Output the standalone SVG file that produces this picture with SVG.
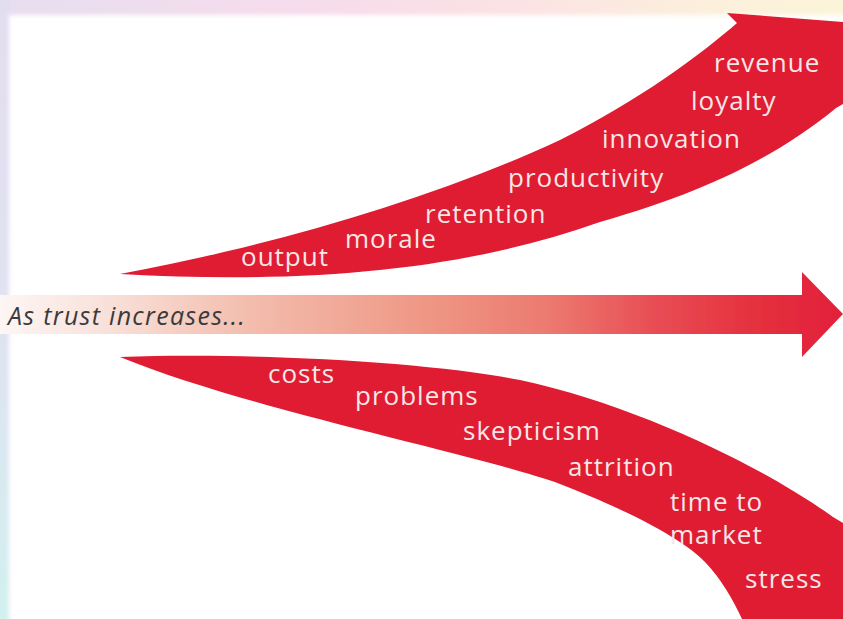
<svg xmlns="http://www.w3.org/2000/svg" width="843" height="619" viewBox="0 0 843 619">
  <defs>
    <linearGradient id="topBand" x1="0" y1="0" x2="1" y2="0">
      <stop offset="0" stop-color="#e6def0"/>
      <stop offset="0.35" stop-color="#f6dcec"/>
      <stop offset="0.6" stop-color="#fbe2e4"/>
      <stop offset="0.85" stop-color="#fcf0dc"/>
      <stop offset="1" stop-color="#fbf4d8"/>
    </linearGradient>
    <linearGradient id="sideBand" x1="0" y1="0" x2="0" y2="1">
      <stop offset="0" stop-color="#e4ddf0"/>
      <stop offset="0.5" stop-color="#e0e2f2"/>
      <stop offset="1" stop-color="#d2f0ef"/>
    </linearGradient>
    <linearGradient id="trustFill" x1="0" y1="0" x2="843" y2="0" gradientUnits="userSpaceOnUse">
      <stop offset="0" stop-color="#fdf6f4"/>
      <stop offset="0.12" stop-color="#f9e2dc"/>
      <stop offset="0.3" stop-color="#f3bcac"/>
      <stop offset="0.5" stop-color="#ef9886"/>
      <stop offset="0.65" stop-color="#ec7a70"/>
      <stop offset="0.78" stop-color="#e84c54"/>
      <stop offset="0.9" stop-color="#e5303e"/>
      <stop offset="1" stop-color="#e2203a"/>
    </linearGradient>
    <filter id="soft" x="-5%" y="-5%" width="110%" height="110%">
      <feGaussianBlur stdDeviation="0.7"/>
    </filter>
    <filter id="haze" x="-5%" y="-5%" width="110%" height="110%">
      <feGaussianBlur stdDeviation="2"/>
    </filter>
    <style>
      .band { fill: #e01a33; }
      .lbl { font-family: "Open Sans", "Noto Sans", sans-serif; font-size: 26px; letter-spacing: 1px; fill: #f6e6e6; }
      .lead { font-family: "Open Sans", "Noto Sans", sans-serif; font-size: 25px; letter-spacing: 1.3px; font-style: italic; fill: #3a3a3a; }
    </style>
  </defs>

  <!-- pastel frame behind the white sheet -->
  <rect x="0" y="0" width="843" height="619" fill="url(#topBand)"/>
  <rect x="0" y="0" width="10" height="619" fill="url(#sideBand)"/>
  <rect x="9" y="15" width="845" height="610" fill="#ffffff" filter="url(#haze)"/>

  <!-- rising band: benefits -->
  <g id="gains">
    <path class="band" filter="url(#soft)" d="M120,274 C250,250 420,205 560,140 C640,100 700,55 737,23 L727,13 L843,22 L843,104 L836,108 C785,150 715,190 600,222 C470,268 320,285 120,274 Z"/>
    <text class="lbl" x="714" y="72">revenue</text>
    <text class="lbl" x="691" y="110">loyalty</text>
    <text class="lbl" x="602" y="148">innovation</text>
    <text class="lbl" x="508" y="187">productivity</text>
    <text class="lbl" x="425" y="223">retention</text>
    <text class="lbl" x="345" y="248">morale</text>
    <text class="lbl" x="241" y="266">output</text>
  </g>

  <!-- central arrow -->
  <g id="trust">
    <path fill="url(#trustFill)" filter="url(#soft)" d="M0,295 L802,295 L802,272 L843,314 L802,357 L802,334 L0,334 Z"/>
    <text class="lead" x="8" y="325">As trust increases...</text>
  </g>

  <!-- falling band: costs -->
  <g id="losses">
    <path class="band" filter="url(#soft)" d="M120,357 C250,352 430,362 520,380 C640,406 765,468 833,517 L843,523 L843,619 L742,619 C732,598 722,580 705,562 C687,543 640,515 560,484 C470,452 250,410 120,357 Z"/>
    <text class="lbl" x="268" y="383">costs</text>
    <text class="lbl" x="355" y="405">problems</text>
    <text class="lbl" x="463" y="440">skepticism</text>
    <text class="lbl" x="568" y="476">attrition</text>
    <text class="lbl" x="670" y="511">time to</text>
    <text class="lbl" x="670" y="544">market</text>
    <text class="lbl" x="745" y="588">stress</text>
  </g>

  <g id="connectors"/>
</svg>
